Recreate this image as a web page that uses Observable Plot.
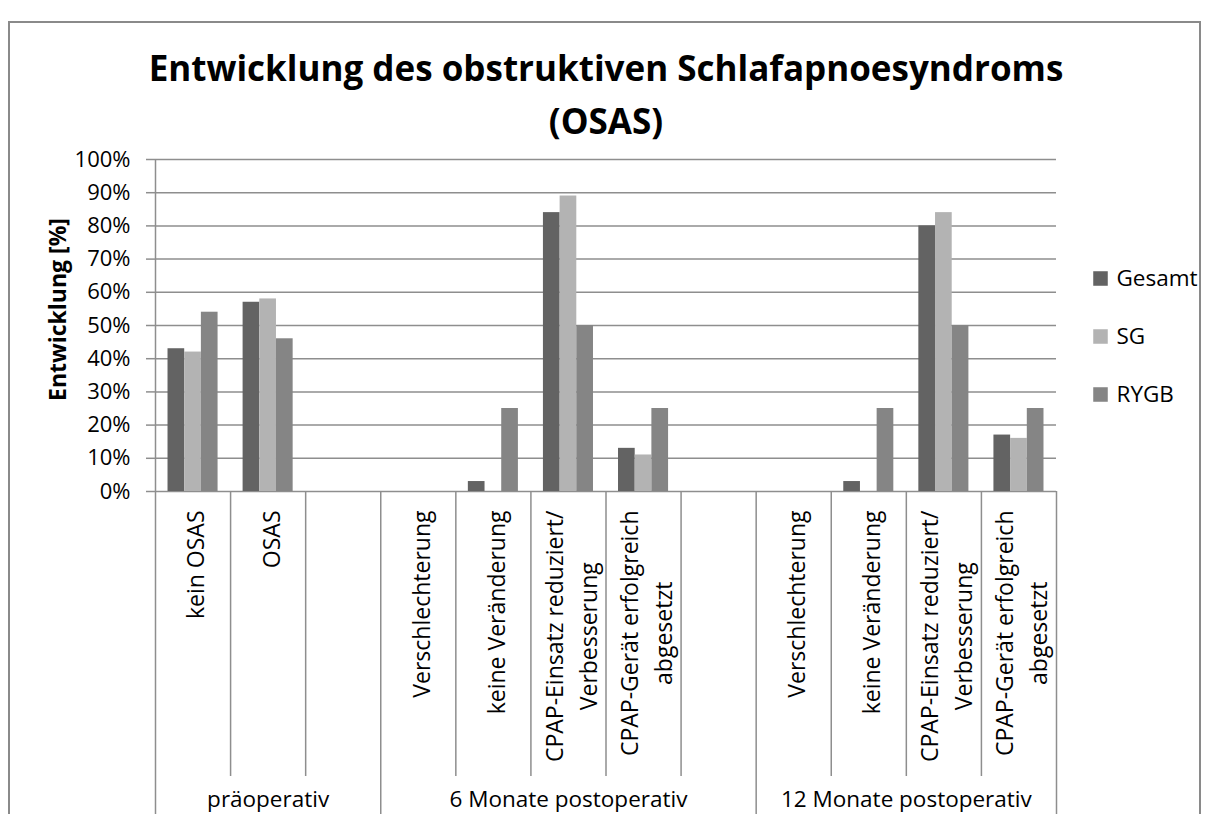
<!DOCTYPE html>
<html>
<head>
<meta charset="utf-8">
<script src="https://cdn.jsdelivr.net/npm/d3@7"></script>
<script src="https://cdn.jsdelivr.net/npm/@observablehq/plot@0.6"></script>
<style>
  html, body { margin: 0; padding: 0; background: #fff; }
  #wrap { position: relative; width: 1210px; height: 814px; overflow: hidden; }
  #border { position: absolute; left: 8px; top: 21px; width: 1193px; height: 900px; border: 2px solid #8a8a8a; box-sizing: border-box; }
  #chart { position: absolute; left: 0; top: 0; }
  #legend { position: absolute; left: 1085px; top: 248.5px; }
</style>
</head>
<body>
<div id="wrap"><div id="border"></div><div id="chart"></div><div id="legend"></div></div>
<script>
// ---------- data ----------
const titleText = "Entwicklung des obstruktiven Schlafapnoesyndroms\n(OSAS)";
const yLabel = "Entwicklung [%]";
const seriesNames = ["Gesamt", "SG", "RYGB"];
const seriesColors = ["#636363", "#b3b3b3", "#858585"];
const groups = ["präoperativ", "6 Monate postoperativ", "12 Monate postoperativ"];
const categories = [
  "kein OSAS", "OSAS", "",
  "Verschlechterung", "keine Veränderung", "CPAP-Einsatz reduziert/\nVerbesserung", "CPAP-Gerät erfolgreich\nabgesetzt", "",
  "Verschlechterung", "keine Veränderung", "CPAP-Einsatz reduziert/\nVerbesserung", "CPAP-Gerät erfolgreich\nabgesetzt"
];
const categoryGroup = [0, 0, 0, 1, 1, 1, 1, 1, 2, 2, 2, 2];
const gesamt = [43, 57, null, 0, 3, 84, 13, null, 0, 3, 80, 17];
const sg     = [42, 58, null, 0, 0, 89, 11, null, 0, 0, 84, 16];
const rygb   = [54, 46, null, 0, 25, 50, 25, null, 0, 25, 50, 25];
const yTicks = [0, 10, 20, 30, 40, 50, 60, 70, 80, 90, 100];

// ---------- layout / style ----------
const W = 1210, H = 814;
const mL = 155, mR = 154, mT = 159, mB = 323;
const FONT = "Open Sans";
const gridColor = "#8e8e8e";
const labelSize = 23;

const seriesValues = [gesamt, sg, rygb];
const rows = [];
categories.forEach((c, i) => {
  seriesValues.forEach((vals, s) => {
    if (vals[i] != null) rows.push({slot: i, s, series: seriesNames[s], value: vals[i]});
  });
});
// bar geometry inside a slot: 1/6 gap, three bars of 2/9, 1/6 gap
const gapFrac = 1 / 6, barFrac = 2 / 9;

// slot boundaries
const bounds = d3.range(1, categories.length + 1).map(k => ({
  pos: k,
  long: k === categories.length || categoryGroup[k] !== categoryGroup[k - 1]
}));

// group spans
const groupRows = groups.map((g, gi) => {
  const idx = categoryGroup.map((v, i) => v === gi ? i : -1).filter(i => i >= 0);
  return {label: g, center: (d3.min(idx) + d3.max(idx) + 1) / 2};
});

// text measuring for centered multi-line category labels
const ctx = document.createElement("canvas").getContext("2d");
ctx.font = `${labelSize}px "${FONT}"`;
const measure = t => ctx.measureText(t).width;

const labelMarks = [];
const lineGap = 34;
categories.forEach((c, i) => {
  if (!c) return;
  const lines = c.split("\n");
  const block = d3.max(lines, measure);
  lines.forEach((ln, j) => {
    labelMarks.push(Plot.text([ln], {
      x: () => i + 0.5, y: () => 0,
      dy: 19 + block / 2,
      dx: 4 + (j - (lines.length - 1) / 2) * lineGap,
      rotate: -90, textAnchor: "middle", fontSize: labelSize, fill: "#000"
    }));
  });
});

const titleSize = 35, titleLH = 1.51;

const chart = Plot.plot({
  width: W, height: H,
  marginLeft: mL, marginRight: mR, marginTop: mT, marginBottom: mB,
  style: {fontFamily: FONT, fontSize: labelSize + "px", background: "transparent", color: "#000", overflow: "visible"},
  x: {domain: [0, categories.length], axis: null},
  y: {domain: [0, 100], axis: null},
  color: {domain: seriesNames, range: seriesColors},
  marks: [
    Plot.ruleY(yTicks, {stroke: gridColor, strokeWidth: 1.5}),
    Plot.axisY(yTicks, {label: null, tickSize: 9, tickPadding: 16, tickFormat: d => d + "%", fontSize: 22, stroke: gridColor, strokeWidth: 1.5, fill: "#000"}),
    Plot.rect(rows, {
      x1: d => d.slot + gapFrac + d.s * barFrac,
      x2: d => d.slot + gapFrac + (d.s + 1) * barFrac,
      y1: 0, y2: "value", fill: "series"
    }),
    // y axis line (continues down through the category table)
    Plot.ruleX([0], {stroke: gridColor, strokeWidth: 1.5, insetBottom: -mB}),
    // category dividers
    Plot.ruleX(bounds.filter(b => !b.long), {x: "pos", stroke: gridColor, strokeWidth: 1.5, insetTop: H - mT - mB, insetBottom: -285}),
    Plot.ruleX(bounds.filter(b => b.long), {x: "pos", stroke: gridColor, strokeWidth: 1.5, insetTop: H - mT - mB, insetBottom: -mB}),
    ...labelMarks,
    Plot.text(groupRows, {x: "center", y: () => 0, text: "label", dy: 308, textAnchor: "middle", fontSize: 22.5, fill: "#000"}),
    Plot.text([titleText], {frameAnchor: "top", dy: 81 - mT - 0.71 * titleLH * titleSize, lineAnchor: "top", lineHeight: titleLH, fontSize: titleSize, fontWeight: "bold", fill: "#000"}),
    Plot.text([yLabel], {frameAnchor: "left", dx: -96.7, dy: -16, rotate: -90, textAnchor: "middle", fontSize: 23, fontWeight: "bold", fill: "#000"})
  ]
});
document.getElementById("chart").append(chart);

const legend = Plot.plot({
  width: 125, height: 174,
  marginLeft: 15, marginRight: 0, marginTop: 0, marginBottom: 0,
  style: {fontFamily: FONT, background: "transparent", color: "#000", overflow: "visible"},
  x: {axis: null},
  y: {type: "point", domain: seriesNames, padding: 0.5, axis: null},
  color: {domain: seriesNames, range: seriesColors},
  marks: [
    Plot.dot(seriesNames, {y: d => d, frameAnchor: "left", symbol: "square", r: 8.2, fill: d => d, stroke: null}),
    Plot.text(seriesNames, {y: d => d, frameAnchor: "left", dx: 16, textAnchor: "start", fontSize: 22.5, fill: "#000"})
  ]
});
document.getElementById("legend").append(legend);
</script>
</body>
</html>
